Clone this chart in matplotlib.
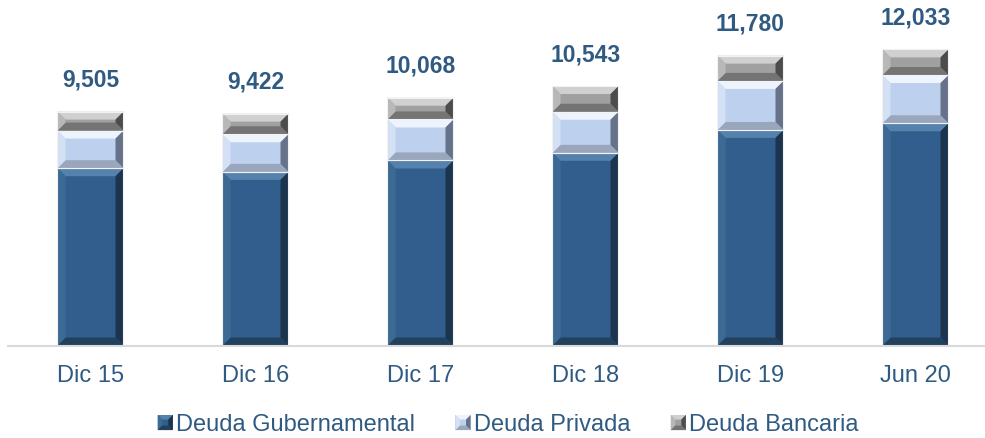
import matplotlib.pyplot as plt
from matplotlib.patches import Polygon, Rectangle
from matplotlib.legend_handler import HandlerBase

plt.rcParams['font.family'] = ['Liberation Sans', 'DejaVu Sans']

categories = ['Dic 15', 'Dic 16', 'Dic 17', 'Dic 18', 'Dic 19', 'Jun 20']
gubernamental = [7205, 7055, 7520, 7830, 8760, 9030]
privada = [1530, 1530, 1665, 1670, 1992, 1960]
bancaria = [770, 837, 883, 1043, 1028, 1043]
totales = [9505, 9422, 10068, 10543, 11780, 12033]
series_names = ['Deuda Gubernamental', 'Deuda Privada', 'Deuda Bancaria']

# face, top, left, right, bottom
styles = [
    ('#315E8C', '#5582AC', '#3D6A95', '#1C344E', '#22415F'),
    ('#BDD0EE', '#EEF4FD', '#D4E0F4', '#66728A', '#9AA6BC'),
    ('#A0A0A0', '#D0D0D0', '#B8B8B8', '#4C4C4C', '#747474'),
]
txt_color = '#2F5A82'

W, H, DPI = 985, 438, 100
fig = plt.figure(figsize=(W / DPI, H / DPI), dpi=DPI)
ax_l, ax_b, ax_w, ax_h = 8, 92.5, 990, 345.5  # pixels
ax = fig.add_axes([ax_l / W, ax_b / H, ax_w / W, ax_h / H])
ymax = 14040
ax.set_xlim(-0.5, 5.5)
ax.set_ylim(0, ymax)

bar_w = 0.4
px_x = 6.0 / ax_w          # data units per px (x)
px_y = ymax / ax_h         # data units per px (y)
bev = 8


def bevel_box(axis, x0, y0, w, h, st, b=bev):
    x1, y1 = x0 + w, y0 + h
    dx = min(b * px_x, w / 2)
    dy = min(b * px_y, h / 2.2)
    face, top, left, right, bottom = st
    axis.add_patch(Rectangle((x0, y0), w, h, facecolor=face, edgecolor='none'))
    axis.add_patch(Polygon([(x0, y1), (x1, y1), (x1 - dx, y1 - dy), (x0 + dx, y1 - dy)],
                           facecolor=top, edgecolor='none'))
    axis.add_patch(Polygon([(x0, y0), (x1, y0), (x1 - dx, y0 + dy), (x0 + dx, y0 + dy)],
                           facecolor=bottom, edgecolor='none'))
    axis.add_patch(Polygon([(x0, y0), (x0, y1), (x0 + dx, y1 - dy), (x0 + dx, y0 + dy)],
                           facecolor=left, edgecolor='none'))
    axis.add_patch(Polygon([(x1, y0), (x1, y1), (x1 - dx, y1 - dy), (x1 - dx, y0 + dy)],
                           facecolor=right, edgecolor='none'))
    axis.add_patch(Rectangle((x0, y0), w, h, facecolor='none', edgecolor='#F2F2F2', linewidth=0.8))


for i in range(len(categories)):
    base = 0
    for vals, st in zip([gubernamental, privada, bancaria], styles):
        bevel_box(ax, i - bar_w / 2, base, bar_w, vals[i], st)
        base += vals[i]
    ax.annotate(f'{totales[i]:,}', (i, totales[i]), xytext=(0, 18), textcoords='offset points',
                ha='center', va='baseline', fontsize=16.5, fontweight='bold', color=txt_color)

ax.set_xticks(range(len(categories)))
ax.set_xticklabels(categories, fontsize=17, color=txt_color)
ax.tick_params(axis='x', length=0, pad=14)
ax.set_yticks([])
for s in ['top', 'left', 'right']:
    ax.spines[s].set_visible(False)
ax.spines['bottom'].set_color('#D9D9D9')
ax.spines['bottom'].set_linewidth(1.5)


class BevelHandler(HandlerBase):
    def __init__(self, st):
        super().__init__()
        self.st = st

    def create_artists(self, legend, orig_handle, xdescent, ydescent, width, height, fontsize, trans):
        s = min(width, height)
        x0, y0 = -xdescent, -ydescent + (height - s) / 2
        x1, y1 = x0 + s, y0 + s
        d = s * 0.3
        face, top, left, right, bottom = self.st
        arts = [Rectangle((x0, y0), s, s, facecolor=face, edgecolor='none')]
        arts.append(Polygon([(x0, y1), (x1, y1), (x1 - d, y1 - d), (x0 + d, y1 - d)], facecolor=top, edgecolor='none'))
        arts.append(Polygon([(x0, y0), (x0, y1), (x0 + d, y1 - d), (x0 + d, y0 + d)], facecolor=left, edgecolor='none'))
        arts.append(Polygon([(x1, y0), (x1, y1), (x1 - d, y1 - d), (x1 - d, y0 + d)], facecolor=right, edgecolor='none'))
        arts.append(Polygon([(x0, y0), (x1, y0), (x1 - d, y0 + d), (x0 + d, y0 + d)], facecolor=bottom, edgecolor='none'))
        for a in arts:
            a.set_transform(trans)
        return arts


handles = [Rectangle((0, 0), 1, 1) for _ in series_names]
leg = fig.legend(handles, series_names, loc='center', bbox_to_anchor=(0.516, 0.03), ncol=3,
                 frameon=False, fontsize=17, handlelength=0.64, handleheight=0.64,
                 handletextpad=0.15, columnspacing=1.7, borderpad=0,
                 handler_map={h: BevelHandler(st) for h, st in zip(handles, styles)})
for t in leg.get_texts():
    t.set_color(txt_color)

fig.savefig('out.png', dpi=DPI)
